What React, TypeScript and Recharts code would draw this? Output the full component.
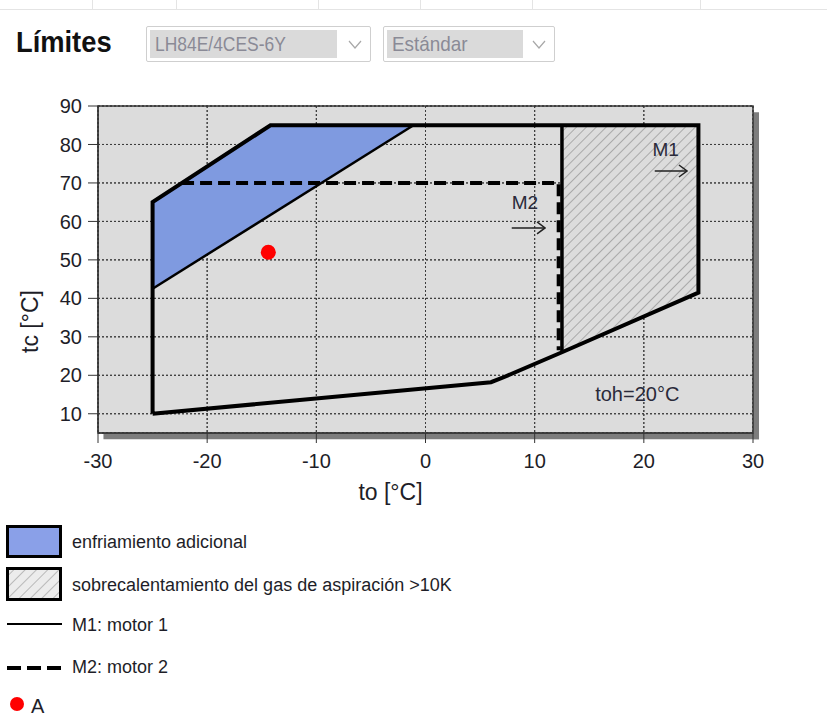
import React from 'react';
import { ScatterChart, Scatter, XAxis, YAxis, CartesianGrid, ReferenceArea } from 'recharts';

const xTicks = [-30, -20, -10, 0, 10, 20, 30];
const yTicks = [10, 20, 30, 40, 50, 60, 70, 80, 90];

// M1 envelope, closed outline
const envelopeM1 = [
  { x: -25, y: 10 },
  { x: -25, y: 65 },
  { x: -14.2, y: 85 },
  { x: 25, y: 85 },
  { x: 25, y: 41.5 },
  { x: 12.5, y: 26 },
  { x: 7, y: 19.3 },
  { x: 6, y: 18.2 },
  { x: -25, y: 10 },
];

// M2 limit (dashed)
const limitM2 = [
  { x: -22.3, y: 70 },
  { x: 12.2, y: 70 },
  { x: 12.2, y: 26.5 },
];

// enfriamiento adicional
const coolingZone = [
  { x: -25, y: 42.5 },
  { x: -25, y: 65 },
  { x: -14.2, y: 85 },
  { x: -1.1, y: 85 },
  { x: -25, y: 42.5 },
];
const coolingEdge = [
  { x: -25, y: 42.5 },
  { x: -1.1, y: 85 },
];

// sobrecalentamiento > 10K
const superheatZone = [
  { x: 12.5, y: 85 },
  { x: 25, y: 85 },
  { x: 25, y: 41.5 },
  { x: 12.5, y: 26 },
  { x: 12.5, y: 85 },
];
const superheatEdge = [
  { x: 12.5, y: 85 },
  { x: 12.5, y: 26 },
];

const pointA = [{ x: -14.4, y: 52 }];

const motorLabels = [
  { x: 22, y: 78.6, label: 'M1' },
  { x: 9.1, y: 64.8, label: 'M2' },
];
const arrowM1 = [
  { x: 21, y: 73.1 },
  { x: 23.95, y: 73.1 },
];
const arrowM2 = [
  { x: 7.9, y: 58.3 },
  { x: 10.95, y: 58.3 },
];
const tohLabel = [{ x: 19.4, y: 15.1, label: 'toh=20°C' }];

const legendItems = [
  'enfriamiento adicional',
  'sobrecalentamiento del gas de aspiración >10K',
  'M1: motor 1',
  'M2: motor 2',
  'A',
];

const FONT = "'Liberation Sans', Arial, sans-serif";
const TXT = '#1e1e28';

const noDot = () => <g />;

const arrowLine = (p: any) => {
  const pts = p.points || [];
  if (pts.length < 2) return <g />;
  return (
    <path
      d={`M${pts[0].x},${pts[0].y}L${pts[1].x},${pts[1].y}`}
      stroke="#222"
      strokeWidth={1.5}
      fill="none"
      markerEnd="url(#arrowHead)"
    />
  );
};

const textShape = (size: number) => (p: any) => (
  <text
    x={p.cx}
    y={p.cy}
    textAnchor="middle"
    dominantBaseline="central"
    fontSize={size}
    fontFamily={FONT}
    fill="#2a2a3a"
  >
    {p.payload?.label ?? p.label}
  </text>
);

const XTitle = (p: any) => {
  const vb = p.viewBox || { x: 98, y: 433, width: 655, height: 75 };
  return (
    <text x={vb.x + vb.width / 2 - 35} y={vb.y + 67} textAnchor="middle" fontSize={23} fontFamily={FONT} fill={TXT}>
      to [°C]
    </text>
  );
};

const YTitle = (p: any) => {
  const vb = p.viewBox || { x: 38, y: 106, width: 60, height: 327 };
  const cx = vb.x - 8;
  const cy = vb.y + vb.height / 2 + 52;
  return (
    <text
      x={cx}
      y={cy}
      transform={`rotate(-90 ${cx} ${cy})`}
      textAnchor="middle"
      dominantBaseline="central"
      fontSize={23}
      fontFamily={FONT}
      fill={TXT}
    >
      tc [°C]
    </text>
  );
};

function Dropdown({
  left,
  width,
  innerWidth,
  text,
  squeeze,
}: {
  left: number;
  width: number;
  innerWidth: number;
  text: string;
  squeeze: number;
}) {
  return (
    <div
      style={{
        position: 'absolute',
        left,
        top: 26,
        width,
        height: 36,
        boxSizing: 'border-box',
        border: '1px solid #cfcfcf',
        borderRadius: 2,
        background: '#fff',
      }}
    >
      <div
        style={{
          position: 'absolute',
          left: 3,
          top: 3,
          width: innerWidth,
          height: 28,
          background: '#dadada',
          overflow: 'hidden',
        }}
      >
        <div
          style={{
            position: 'absolute',
            left: 5,
            top: 0,
            color: '#8a8a96',
            fontFamily: FONT,
            fontSize: 21,
            lineHeight: '28px',
            whiteSpace: 'nowrap',
            transform: `scaleX(${squeeze})`,
            transformOrigin: 'left center',
          }}
        >
          {text}
        </div>
      </div>
      <svg style={{ position: 'absolute', right: 8, top: 13 }} width={14} height={10}>
        <polyline points="1,1 7,8 13,1" fill="none" stroke="#a8a8a8" strokeWidth={1.2} />
      </svg>
    </div>
  );
}

function Legend() {
  return (
    <svg style={{ position: 'absolute', left: 0, top: 515 }} width={827} height={201}>
      <rect x={7.5} y={11.5} width={53} height={30} fill="#8aa0e8" stroke="#000" strokeWidth={3} />
      <text x={72} y={27} dominantBaseline="central" fontSize={18} fontFamily={FONT} fill={TXT}>
        {legendItems[0]}
      </text>
      <rect x={7.5} y={53.5} width={53} height={31} fill="url(#hatchLegend)" stroke="#000" strokeWidth={3} />
      <text x={72} y={70} dominantBaseline="central" fontSize={18} fontFamily={FONT} fill={TXT}>
        {legendItems[1]}
      </text>
      <line x1={7} y1={109} x2={62} y2={109} stroke="#000" strokeWidth={2} />
      <text x={72} y={110} dominantBaseline="central" fontSize={18} fontFamily={FONT} fill={TXT}>
        {legendItems[2]}
      </text>
      <line x1={7} y1={153} x2={62} y2={153} stroke="#000" strokeWidth={4} strokeDasharray="14 6" />
      <text x={72} y={152} dominantBaseline="central" fontSize={18} fontFamily={FONT} fill={TXT}>
        {legendItems[3]}
      </text>
      <circle cx={17} cy={189} r={7} fill="#ff0000" />
      <text x={31} y={191} dominantBaseline="central" fontSize={20} fontFamily={FONT} fill={TXT}>
        {legendItems[4]}
      </text>
    </svg>
  );
}

export default function App() {
  return (
    <div
      style={{
        position: 'absolute',
        left: 0,
        top: 0,
        width: 827,
        height: 716,
        background: '#fff',
        fontFamily: FONT,
        overflow: 'hidden',
      }}
    >
      <svg width={0} height={0} style={{ position: 'absolute' }}>
        <defs>
          <pattern id="hatch" patternUnits="userSpaceOnUse" width={7} height={7} patternTransform="rotate(45)">
            <rect width={7} height={7} fill="#dcdcdc" />
            <line x1={0} y1={0} x2={0} y2={7} stroke="#a9a9a9" strokeWidth={2} />
          </pattern>
          <pattern id="hatchLegend" patternUnits="userSpaceOnUse" width={8} height={8} patternTransform="rotate(45)">
            <rect width={8} height={8} fill="#ececec" />
            <line x1={0} y1={0} x2={0} y2={8} stroke="#b9b9b9" strokeWidth={2} />
          </pattern>
          <marker
            id="arrowHead"
            viewBox="0 0 10 14"
            refX={9}
            refY={7}
            markerWidth={10}
            markerHeight={14}
            markerUnits="userSpaceOnUse"
            orient="auto"
          >
            <path d="M1,1 L9,7 L1,13" fill="none" stroke="#222" strokeWidth={1.5} />
          </marker>
        </defs>
      </svg>

      {/* tab strip */}
      <div style={{ position: 'absolute', left: 0, top: 9, width: 827, borderTop: '1px solid #e4e4e4' }} />
      {[92, 176, 318, 420, 532, 700].map((x) => (
        <div key={x} style={{ position: 'absolute', left: x, top: 0, height: 9, borderLeft: '1px solid #e4e4e4' }} />
      ))}

      <div
        style={{
          position: 'absolute',
          left: 16,
          top: 24,
          fontFamily: FONT,
          fontWeight: 'bold',
          fontSize: 30,
          lineHeight: '36px',
          color: '#111',
          whiteSpace: 'nowrap',
          transform: 'scaleX(0.91)',
          transformOrigin: 'left center',
        }}
      >
        Límites
      </div>
      <Dropdown left={146} width={225} innerWidth={187} text="LH84E/4CES-6Y" squeeze={0.83} />
      <Dropdown left={383} width={172} innerWidth={136} text="Estándar" squeeze={0.9} />

      <div style={{ position: 'absolute', left: 0, top: 0 }}>
        <ScatterChart width={827} height={520} margin={{ top: 106, right: 74, bottom: 12, left: 38 }}>
          <ReferenceArea x1={30} x2={30.55} y1={3.4} y2={88.4} fill="#7d7d7d" fillOpacity={1} stroke="none" ifOverflow="visible" />
          <ReferenceArea x1={-29.5} x2={30.55} y1={3.4} y2={5} fill="#7d7d7d" fillOpacity={1} stroke="none" ifOverflow="visible" />
          <CartesianGrid fill="#dcdcdc" fillOpacity={1} stroke="#3c3c3c" strokeDasharray="2 2" />
          <XAxis
            type="number"
            dataKey="x"
            domain={[-30, 30]}
            ticks={xTicks}
            allowDataOverflow
            height={75}
            tickSize={10}
            tickMargin={11}
            axisLine={{ stroke: '#333' }}
            tickLine={{ stroke: '#333' }}
            tick={{ fill: TXT, fontSize: 20, fontFamily: FONT }}
            label={<XTitle />}
          />
          <YAxis
            type="number"
            dataKey="y"
            domain={[5, 90]}
            ticks={yTicks}
            allowDataOverflow
            width={60}
            tickSize={10}
            tickMargin={6}
            axisLine={{ stroke: '#333' }}
            tickLine={{ stroke: '#333' }}
            tick={{ fill: TXT, fontSize: 20, fontFamily: FONT }}
            label={<YTitle />}
          />
          <Scatter
            data={coolingZone}
            fill="none"
            shape={noDot}
            line={{ fill: '#7f9ae0', stroke: 'none' }}
            lineJointType="linear"
            isAnimationActive={false}
          />
          <Scatter
            data={superheatZone}
            fill="none"
            shape={noDot}
            line={{ fill: 'url(#hatch)', stroke: 'none' }}
            lineJointType="linear"
            isAnimationActive={false}
          />
          <CartesianGrid fill="none" stroke="#3c3c3c" strokeDasharray="2 2" />
          <ReferenceArea x1={-30} x2={30} y1={5} y2={90} fill="none" stroke="#333" strokeWidth={1.5} />
          <Scatter
            data={coolingEdge}
            fill="none"
            shape={noDot}
            line={{ stroke: '#000', strokeWidth: 2.5, fill: 'none' }}
            lineJointType="linear"
            isAnimationActive={false}
          />
          <Scatter
            data={superheatEdge}
            fill="none"
            shape={noDot}
            line={{ stroke: '#000', strokeWidth: 3.5, fill: 'none' }}
            lineJointType="linear"
            isAnimationActive={false}
          />
          <Scatter
            data={envelopeM1}
            fill="none"
            shape={noDot}
            line={{ stroke: '#000', strokeWidth: 4, fill: 'none' }}
            lineJointType="linear"
            isAnimationActive={false}
          />
          <Scatter
            data={limitM2}
            fill="none"
            shape={noDot}
            line={{ stroke: '#000', strokeWidth: 4, fill: 'none', strokeDasharray: '12 6' }}
            lineJointType="linear"
            isAnimationActive={false}
          />
          <Scatter data={arrowM1} fill="none" shape={noDot} line={arrowLine} isAnimationActive={false} />
          <Scatter data={arrowM2} fill="none" shape={noDot} line={arrowLine} isAnimationActive={false} />
          <Scatter data={motorLabels} fill="none" shape={textShape(19)} isAnimationActive={false} />
          <Scatter data={tohLabel} fill="none" shape={textShape(20)} isAnimationActive={false} />
          <Scatter
            data={pointA}
            fill="#ff0000"
            shape={(p: any) => <circle cx={p.cx} cy={p.cy} r={7.5} fill="#ff0000" />}
            isAnimationActive={false}
          />
        </ScatterChart>
      </div>

      <Legend />
    </div>
  );
}
